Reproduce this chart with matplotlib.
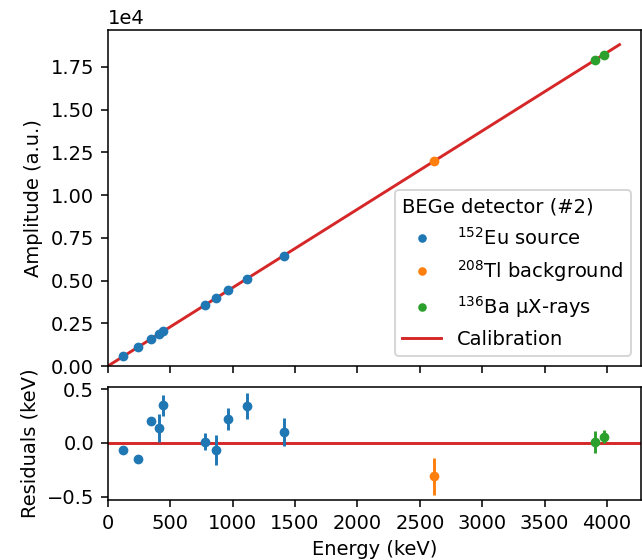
import matplotlib
matplotlib.use("Agg")
import matplotlib.pyplot as plt
import numpy as np

# peak energies (keV) and fitted amplitudes (a.u.)
eu_energy = [121.8, 244.7, 344.3, 411.1, 444.0, 778.9, 867.4, 964.1, 1112.1, 1408.0]
eu_amp = [559, 1122, 1579, 1886, 2037, 3573, 3979, 4422, 5101, 6458]
eu_res = [-0.07, -0.145, 0.20, 0.135, 0.35, 0.01, -0.065, 0.225, 0.345, 0.105]
eu_err = [0.01, 0.01, 0.01, 0.13, 0.10, 0.08, 0.14, 0.10, 0.12, 0.13]

tl_energy = [2614.5]
tl_amp = [11993]
tl_res = [-0.31]
tl_err = [0.17]

ba_energy = [3907.0, 3972.0]
ba_amp = [17921, 18220]
ba_res = [0.01, 0.056]
ba_err = [0.10, 0.06]

# linear calibration
cal_slope = 4.587
cal_range = [0, 4100]

fig, (ax, axr) = plt.subplots(2, 1, sharex=True, figsize=(642 / 140, 560 / 140), dpi=140,
                              gridspec_kw={"height_ratios": [336, 113], "hspace": 0.094})
fig.subplots_adjust(left=0.168, right=0.998, top=0.946, bottom=0.107)

# top: amplitude vs energy
ax.plot(eu_energy, eu_amp, "o", color="C0", ms=4, label="$^{152}$Eu source")
ax.plot(tl_energy, tl_amp, "o", color="C1", ms=4, label="$^{208}$Tl background")
ax.plot(ba_energy, ba_amp, "o", color="C2", ms=4, label="$^{136}$Ba µX-rays")
e = np.array(cal_range)
ax.plot(e, cal_slope * e, color="C3", label="Calibration", zorder=1)
ax.set_ylabel("Amplitude (a.u.)")
ax.set_ylim(0, 19650)
ax.ticklabel_format(axis="y", style="sci", scilimits=(4, 4), useMathText=False)
ax.legend(title="BEGe detector (#2)", loc="lower right", alignment="left",
          markerscale=0.85)

# bottom: residuals
axr.axhline(0, color="C3", zorder=1)
axr.errorbar(eu_energy, eu_res, yerr=eu_err, fmt="o", color="C0", ms=4)
axr.errorbar(tl_energy, tl_res, yerr=tl_err, fmt="o", color="C1", ms=4)
axr.errorbar(ba_energy, ba_res, yerr=ba_err, fmt="o", color="C2", ms=4)
axr.set_ylabel("Residuals (keV)")
axr.set_xlabel("Energy (keV)")
axr.set_ylim(-0.531, 0.519)
axr.set_xlim(0, 4270)
axr.set_xticks(np.arange(0, 4001, 500))

fig.savefig("out.png", dpi=140)
